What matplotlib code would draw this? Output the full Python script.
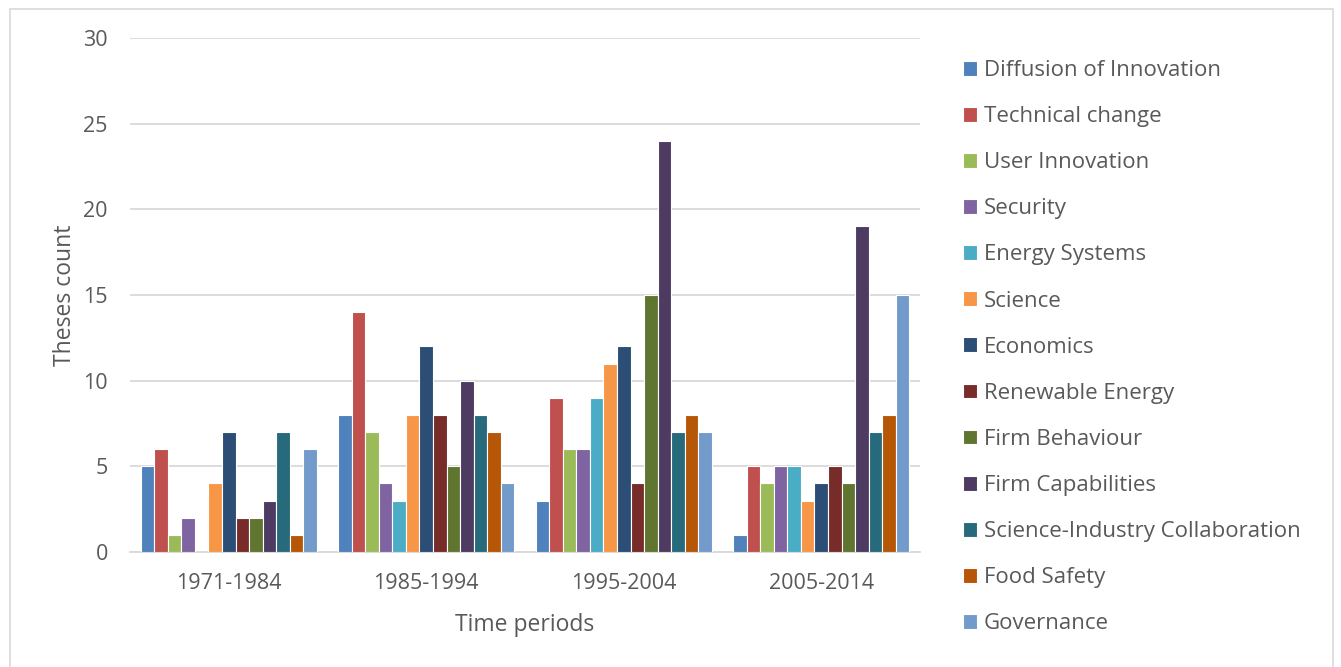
import numpy as np
import matplotlib.pyplot as plt
from matplotlib.patches import Rectangle

periods = ['1971-1984', '1985-1994', '1995-2004', '2005-2014']
topics = ['Diffusion of Innovation', 'Technical change', 'User Innovation', 'Security',
          'Energy Systems', 'Science', 'Economics', 'Renewable Energy', 'Firm Behaviour',
          'Firm Capabilities', 'Science-Industry Collaboration', 'Food Safety', 'Governance']
colors = ['#4F81BD', '#C0504D', '#9BBB59', '#8064A2', '#4BACC6', '#F79646', '#2C4D75',
          '#772C2A', '#5F7530', '#4D3B62', '#276A7C', '#B65708', '#729ACA']

# thesis counts per topic, one value per period
counts = {
    'Diffusion of Innovation': [5, 8, 3, 1],
    'Technical change': [6, 14, 9, 5],
    'User Innovation': [1, 7, 6, 4],
    'Security': [2, 4, 6, 5],
    'Energy Systems': [0, 3, 9, 5],
    'Science': [4, 8, 11, 3],
    'Economics': [7, 12, 12, 4],
    'Renewable Energy': [2, 8, 4, 5],
    'Firm Behaviour': [2, 5, 15, 4],
    'Firm Capabilities': [3, 10, 24, 19],
    'Science-Industry Collaboration': [7, 8, 7, 7],
    'Food Safety': [1, 7, 8, 8],
    'Governance': [6, 4, 7, 15],
}

plt.rcParams['font.family'] = ['Open Sans', 'DejaVu Sans']
text_col = '#595959'

fig = plt.figure(figsize=(13.41, 6.67), dpi=100)
ax = fig.add_axes([130/1341, 115/667, 790/1341, 514/667])

x = np.arange(len(periods))
slot = 0.0685
for i, t in enumerate(topics):
    off = (i - (len(topics) - 1) / 2) * slot
    ax.bar(x + off, counts[t], width=slot, color=colors[i], edgecolor='white',
           linewidth=0.8, label=t, zorder=3)

ax.set_xlim(-0.5, len(periods) - 0.5)
ax.set_ylim(0, 30)
ax.set_yticks(range(0, 31, 5))
ax.set_xticks(x)
ax.set_xticklabels(periods)
ax.grid(axis='y', color='#d9d9d9', linewidth=1.3, zorder=0)
for s in ['top', 'right', 'left']:
    ax.spines[s].set_visible(False)
ax.spines['bottom'].set_color('#d9d9d9')
ax.spines['bottom'].set_linewidth(1.3)
ax.tick_params(axis='both', length=0, labelsize=15.5, colors=text_col)
ax.tick_params(axis='x', pad=15)
ax.tick_params(axis='y', pad=16)
ax.set_ylabel('Theses count', fontsize=16.5, color=text_col, labelpad=4.5)
ax.set_xlabel('Time periods', fontsize=16.5, color=text_col, labelpad=13.5)

fig.legend(loc='upper left', bbox_to_anchor=(943/1341, 1 - 40/667), frameon=False,
           fontsize=16, labelcolor=text_col, handlelength=0.65, handleheight=0.65,
           handletextpad=0.3, labelspacing=1.13)

# light outer frame
fig.patches.append(Rectangle((10/1341, -0.05), 1323/1341, 1.05 - 9/667,
                             transform=fig.transFigure, fill=False,
                             edgecolor='#d9d9d9', linewidth=1.2))

fig.savefig('out.png', dpi=100, facecolor='white')
